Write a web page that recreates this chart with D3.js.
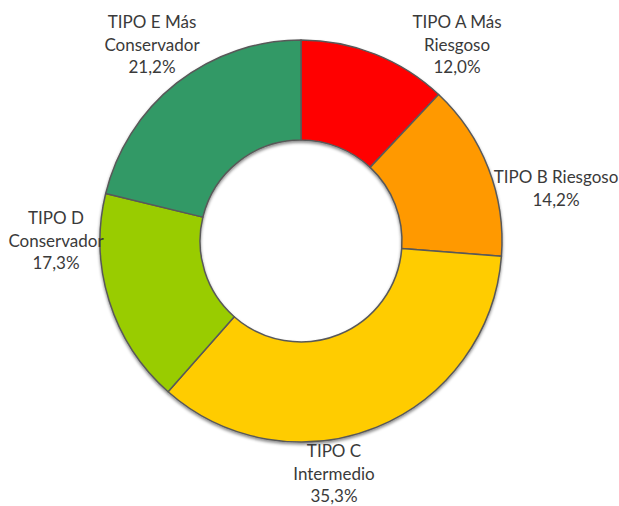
<!DOCTYPE html>
<meta charset="utf-8">
<style>
body { margin: 0; background: #fff; overflow: hidden; }
.label text { font-family: Lato, "Open Sans", sans-serif; font-size: 17px; fill: #3a3a3a; }
</style>
<body>
<script src="https://d3js.org/d3.v7.min.js"></script>
<script>
var categories = ["TIPO A Más Riesgoso", "TIPO B Riesgoso", "TIPO C Intermedio", "TIPO D Conservador", "TIPO E Más Conservador"];
var values = [12.0, 14.2, 35.3, 17.3, 21.2];
var colors = ["#ff0000", "#ff9900", "#ffcc00", "#99cc00", "#339966"];
// label lines as Excel wrapped them
var labelLines = [
  ["TIPO A Más", "Riesgoso"],
  ["TIPO B Riesgoso"],
  ["TIPO C", "Intermedio"],
  ["TIPO D", "Conservador"],
  ["TIPO E Más", "Conservador"]
];

var width = 619, height = 506;
var cx = 301, cy = 241, outerR = 201, innerR = 101;
// label anchors (offset from centre, middle of first line caps)
var labelOffset = [[156, -219], [255, -64], [33, 210], [-245, -23], [-149, -219]];
var lineH = 22.5;

var svg = d3.select("body").append("svg")
  .style("display", "block")
  .attr("width", width)
  .attr("height", height);

var defs = svg.append("defs");
var f = defs.append("filter").attr("id", "shadow")
  .attr("x", "-10%").attr("y", "-10%").attr("width", "120%").attr("height", "120%");
f.append("feDropShadow")
  .attr("dx", 0).attr("dy", 2).attr("stdDeviation", 1.8)
  .attr("flood-color", "#000").attr("flood-opacity", 0.45);

var pie = d3.pie().sort(null).value(function(d) { return d; });
var arc = d3.arc().innerRadius(innerR).outerRadius(outerR);

var g = svg.append("g")
  .attr("transform", "translate(" + cx + "," + cy + ")");

g.append("g")
  .attr("filter", "url(#shadow)")
  .selectAll("path")
  .data(pie(values))
  .enter().append("path")
  .attr("d", arc)
  .attr("fill", function(d, i) { return colors[i]; })
  .attr("stroke", "#595959")
  .attr("stroke-width", 1.5)
  .attr("stroke-linejoin", "round");

var fmt = function(v) { return d3.format(".1f")(v).replace(".", ",") + "%"; };

var labels = g.append("g").attr("class", "label")
  .selectAll("text")
  .data(values)
  .enter().append("text")
  .attr("text-anchor", "middle")
  .attr("transform", function(d, i) {
    return "translate(" + labelOffset[i][0] + "," + (labelOffset[i][1] + 6) + ")";
  });

labels.each(function(d, i) {
  var t = d3.select(this);
  var lines = labelLines[i].concat([fmt(d)]);
  lines.forEach(function(s, j) {
    t.append("tspan").attr("x", 0).attr("y", j * lineH).text(s);
  });
});
</script>
</body>
